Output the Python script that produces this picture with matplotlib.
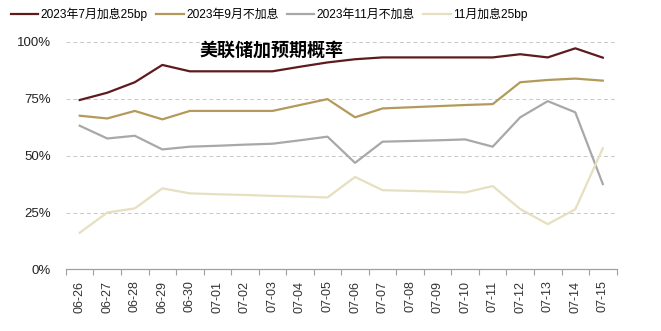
import matplotlib
matplotlib.use("Agg")
import matplotlib.pyplot as plt
from matplotlib.ticker import PercentFormatter, FixedLocator

plt.rcParams['font.family'] = ['Liberation Sans', 'Noto Sans CJK SC', 'DejaVu Sans']

dates = ["06-26", "06-27", "06-28", "06-29", "06-30", "07-01", "07-02", "07-03",
         "07-04", "07-05", "07-06", "07-07", "07-08", "07-09", "07-10", "07-11",
         "07-12", "07-13", "07-14", "07-15"]

hike_jul = [74.4, 77.6, 82.2, 89.8, 87.0, 87.0, 87.0, 87.0, 89.0, 90.9,
            92.3, 93.1, 93.1, 93.1, 93.1, 93.1, 94.5, 93.1, 97.1, 93.0]
hold_sep = [67.5, 66.3, 69.6, 65.9, 69.6, 69.6, 69.6, 69.6, 72.2, 74.8,
            66.8, 70.7, 71.2, 71.7, 72.2, 72.6, 82.2, 83.2, 83.8, 82.9]
hold_nov = [63.1, 57.5, 58.7, 52.7, 53.9, 54.3, 54.8, 55.2, 56.7, 58.3,
            46.8, 56.1, 56.4, 56.7, 57.1, 53.9, 66.8, 73.9, 69.0, 37.5]
hike_nov = [16.1, 25.0, 26.8, 35.6, 33.4, 33.0, 32.7, 32.3, 32.0, 31.6,
            40.6, 34.8, 34.5, 34.2, 33.8, 36.6, 26.5, 19.9, 26.4, 53.2]

series = [
    ("2023年7月加息25bp", hike_jul, "#5E1B1E"),
    ("2023年9月不加息", hold_sep, "#B49A5A"),
    ("2023年11月不加息", hold_nov, "#A8A8A8"),
    ("11月加息25bp", hike_nov, "#E6DFC0"),
]

fig = plt.figure(figsize=(6.61, 3.31), dpi=100)
ax = fig.add_axes([0.0998, 0.186, 0.833, 0.688])

x = list(range(len(dates)))
for label, vals, color in series:
    ax.plot(x, vals, color=color, lw=1.6, label=label)

ax.set_xlim(-0.5, 19.45)
ax.set_ylim(0, 100)
ax.yaxis.set_major_locator(FixedLocator([0, 25, 50, 75, 100]))
ax.yaxis.set_major_formatter(PercentFormatter(decimals=0))
ax.grid(axis='y', color='#C8C8C8', ls=(0, (4, 3)), lw=0.7)
ax.set_axisbelow(True)

ax.set_xticks(x)
ax.set_xticklabels(dates, rotation=90, fontsize=9, color='#333333')
ax.tick_params(axis='x', which='major', length=0, pad=8)
ax.set_xticks([i + 0.5 for i in range(-1, 20)], minor=True)
ax.tick_params(axis='x', which='minor', length=4, color='#A0A0A0', width=0.8)
ax.tick_params(axis='y', length=0, labelsize=9.5, pad=11, labelcolor='#222222')

for side in ['top', 'right', 'left']:
    ax.spines[side].set_visible(False)
ax.spines['bottom'].set_color('#A0A0A0')
ax.spines['bottom'].set_linewidth(0.9)

fig.text(0.41, 0.849, "美联储加预期概率", fontsize=13, fontweight='bold',
         family=['Noto Sans CJK SC', 'DejaVu Sans'], ha='center', va='center')

fig.legend(loc='upper left', bbox_to_anchor=(0.0, 1.01), ncol=4, frameon=False,
           fontsize=8.6, handlelength=2.3, handletextpad=0.2, columnspacing=0.7)

fig.savefig("out.png", dpi=100)
